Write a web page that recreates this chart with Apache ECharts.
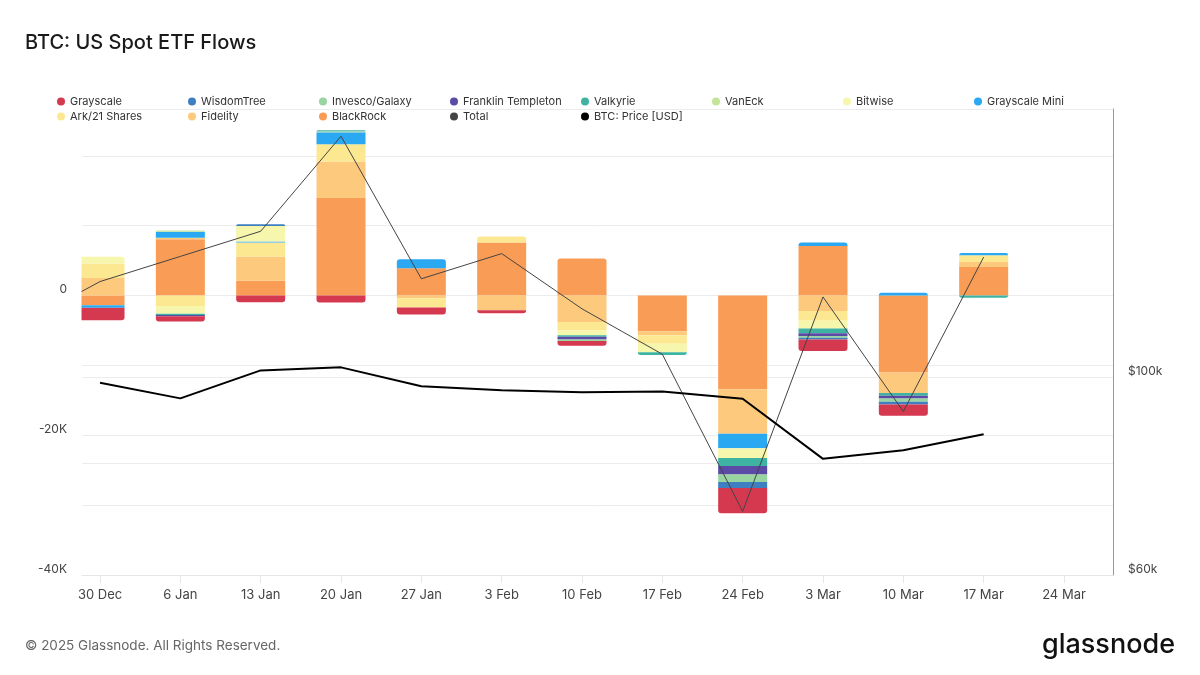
<!DOCTYPE html>
<html>
<head>
<meta charset="utf-8">
<script src="https://cdn.jsdelivr.net/npm/echarts@6/dist/echarts.min.js"></script>
<style>
html,body{margin:0;padding:0;background:#fff;}
#chart{width:1200px;height:675px;}
</style>
</head>
<body>
<div id="chart"></div>
<script>
// ---- data (BTC, weekly) ----
const weeks = ['2024-12-30','2025-01-06','2025-01-13','2025-01-20','2025-01-27','2025-02-03','2025-02-10','2025-02-17','2025-02-24','2025-03-03','2025-03-10','2025-03-17'];
const tickDates = ['2024-12-30','2025-01-06','2025-01-13','2025-01-20','2025-01-27','2025-02-03','2025-02-10','2025-02-17','2025-02-24','2025-03-03','2025-03-10','2025-03-17','2025-03-24'];
const tickLabels = ['30 Dec','6 Jan','13 Jan','20 Jan','27 Jan','3 Feb','10 Feb','17 Feb','24 Feb','3 Mar','10 Mar','17 Mar','24 Mar'];

const blackRock     = [-1400, 8070, 2100, 13970, 3900, 7600, 5300, -5100, -13400, 7100, -11000, 4100];
const fidelity      = [2500, 200, 3500, 5200, -400, -2100, -3800, -600, -6400, -2200, -2950, 700];
const ark21         = [2100, -1500, 2000, 2500, -1300, 850, -1200, -1200, 0, -1400, 0, 950];
const grayscaleMini = [-300, 850, 150, 1700, 1300, 0, 0, 0, -2050, 500, 400, 330];
const bitwise       = [950, -1100, 2200, 100, 0, 0, -700, -1200, -1400, -1100, 0, 0];
const vanEck        = [0, 200, 0, 0, 0, 0, 0, 0, 0, 0, 0, 0];
const valkyrie      = [0, -200, 0, 200, 0, 0, -200, -400, -1150, -700, -400, -300];
const franklin      = [0, -150, 0, 0, 0, 0, -400, 0, -1200, -400, -400, 0];
const invesco       = [0, 0, 0, 0, 0, 0, -200, 0, -1100, -250, -450, 0];
const wisdomTree    = [-100, 0, 250, 0, 0, 0, 0, 0, -850, -250, -400, 0];
const grayscale     = [-1750, -750, -950, -1000, -1000, -450, -700, 0, -3600, -1650, -1600, 0];

const totalDates = ['2024-12-23','2024-12-30','2025-01-06','2025-01-13','2025-01-20','2025-01-27','2025-02-03','2025-02-10','2025-02-17','2025-02-24','2025-03-03','2025-03-10','2025-03-17'];
const total = [-4200, 2000, 5600, 9200, 22800, 2400, 6000, -1900, -8400, -30900, -200, -16600, 5500];
const btcPrice = [98600, 94700, 101800, 102600, 97700, 96700, 96200, 96400, 94600, 81000, 82800, 86300];

// ---- build ----
const ts = d => new Date(d + 'T00:00:00Z').getTime();
const DAY = 864e5;
const tickTs = tickDates.map(ts);
const xMin = ts(weeks[0]) - 1.57 * DAY;
const xMax = tickTs[tickTs.length - 1] + 4.27 * DAY;

const GRID = { left: 82, right: 87, top: 109, bottom: 100 };
const BAR_W = 49;

// ECharts widens a time axis carrying bars by the bar width; pre-shrink so the final extent is [xMin, xMax]
const axisLen = 1200 - GRID.left - GRID.right;
const fullRange = xMax - xMin;
const shrink = (fullRange - fullRange * (1 - BAR_W / axisLen)) / 2;
const barAxisMin = xMin + shrink;
const barAxisMax = xMax - shrink;

const stackDefs = [
  ['BlackRock', blackRock, '#f99c56'],
  ['Fidelity', fidelity, '#fdc97c'],
  ['Ark/21 Shares', ark21, '#fde892'],
  ['Grayscale Mini', grayscaleMini, '#2aa8f2'],
  ['Bitwise', bitwise, '#f6f6ad'],
  ['VanEck', vanEck, '#c3e59a'],
  ['Valkyrie', valkyrie, '#3fb3a2'],
  ['Franklin Templeton', franklin, '#5b4aa6'],
  ['Invesco/Galaxy', invesco, '#98d5a0'],
  ['WisdomTree', wisdomTree, '#3d7fc1'],
  ['Grayscale', grayscale, '#d5394f']
];

// outermost segment per week (for rounded ends)
const outerPos = weeks.map((_, j) => { let k = -1; stackDefs.forEach((s, i) => { if (s[1][j] > 0) k = i; }); return k; });
const outerNeg = weeks.map((_, j) => { let k = -1; stackDefs.forEach((s, i) => { if (s[1][j] < 0) k = i; }); return k; });

const barSeries = stackDefs.map((s, i) => ({
  name: s[0],
  type: 'bar',
  stack: 'flows',
  barWidth: BAR_W,
  clip: true,
  color: s[2],
  itemStyle: { color: s[2] },
  emphasis: { disabled: true },
  data: weeks.map((d, j) => {
    const item = { value: [ts(d), s[1][j]] };
    if (outerPos[j] === i) item.itemStyle = { borderRadius: [3, 3, 0, 0] };
    else if (outerNeg[j] === i) item.itemStyle = { borderRadius: [0, 0, 3, 3] };
    return item;
  })
}));

const legendOrder = ['Grayscale','WisdomTree','Invesco/Galaxy','Franklin Templeton','Valkyrie','VanEck','Bitwise','Grayscale Mini','Ark/21 Shares','Fidelity','BlackRock','Total','BTC: Price [USD]'];

const chart = echarts.init(document.getElementById('chart'), null, { renderer: 'canvas' });
const FONT = 'Inter, "Noto Sans", sans-serif';

chart.setOption({
  animation: false,
  backgroundColor: '#fff',
  textStyle: { fontFamily: FONT },
  title: {
    text: 'BTC: US Spot ETF Flows',
    left: 25, top: 33, padding: 0,
    textStyle: { fontSize: 20, fontWeight: 500, color: '#1a1a1a', fontFamily: FONT }
  },
  legend: {
    data: legendOrder,
    left: 52, top: 89, width: 1065,
    icon: 'circle', itemWidth: 8, itemHeight: 8, itemGap: 0,
    textStyle: { fontSize: 11, color: '#333', width: 118, lineHeight: 15, fontFamily: FONT }
  },
  grid: GRID,
  xAxis: [{
    type: 'time',
    min: barAxisMin, max: barAxisMax,
    show: false
  }, {
    type: 'value',
    min: xMin, max: xMax,
    position: 'bottom',
    axisLine: { show: true, lineStyle: { color: '#e6e6e6' } },
    axisTick: { show: true, length: 8, lineStyle: { color: '#e6e6e6' }, customValues: tickTs },
    axisLabel: {
      customValues: tickTs,
      margin: 14, fontSize: 13, color: '#444', fontFamily: FONT,
      formatter: v => { const i = tickTs.indexOf(v); return i >= 0 ? tickLabels[i] : ''; }
    },
    splitLine: { show: false }
  }],
  yAxis: [{
    type: 'value',
    min: -40000, max: 26700, interval: 10000,
    axisLine: { show: false }, axisTick: { show: false },
    axisLabel: {
      margin: 15, fontSize: 12, color: '#444', verticalAlign: 'bottom', fontFamily: FONT,
      formatter: v => (v > 0 || v % 20000 !== 0) ? '' : (v === 0 ? '0' : (v / 1000) + 'K')
    },
    splitLine: { show: true, lineStyle: { color: '#ececec' } }
  }, {
    type: 'log', logBase: 10,
    min: 60000, max: 200000,
    position: 'right',
    axisLine: { show: true, lineStyle: { color: '#999' } },
    axisTick: { show: false },
    axisLabel: {
      customValues: [60000, 100000],
      margin: 15, fontSize: 12, color: '#444', verticalAlign: 'bottom', fontFamily: FONT,
      formatter: v => '$' + Math.round(v / 1000) + 'k'
    },
    splitLine: { show: false }
  }],
  series: barSeries.concat([{
    name: 'Total',
    type: 'line',
    color: '#444',
    symbol: 'none',
    lineStyle: { width: 1, color: '#444' },
    emphasis: { disabled: true },
    z: 5,
    data: totalDates.map((d, j) => [ts(d), total[j]])
  }, {
    name: 'BTC: Price [USD]',
    type: 'line',
    yAxisIndex: 1,
    color: '#000',
    symbol: 'none',
    lineStyle: { width: 2, color: '#000' },
    emphasis: { disabled: true },
    z: 6,
    data: weeks.map((d, j) => [ts(d), btcPrice[j]]),
    markLine: {
      silent: true, symbol: 'none', label: { show: false },
      lineStyle: { color: '#ececec', width: 1, type: 'solid' },
      data: [{ yAxis: 80000 }, { yAxis: 100000 }],
      z: 0
    }
  }]),
  graphic: [{
    // mask the part of the first bar that spills left of the plot area
    type: 'rect', z: 100, silent: true,
    shape: { x: 69, y: 200, width: 12.5, height: 160 },
    style: { fill: '#fff' }
  }, {
    type: 'text', left: 25, top: 639,
    style: { text: '© 2025 Glassnode. All Rights Reserved.', fontSize: 13.5, fill: '#666', fontFamily: FONT }
  }, {
    type: 'text', right: 25, top: 631,
    style: { text: 'glassnode', fontSize: 27, fontWeight: 500, fill: '#111', fontFamily: FONT }
  }]
});
</script>
</body>
</html>
